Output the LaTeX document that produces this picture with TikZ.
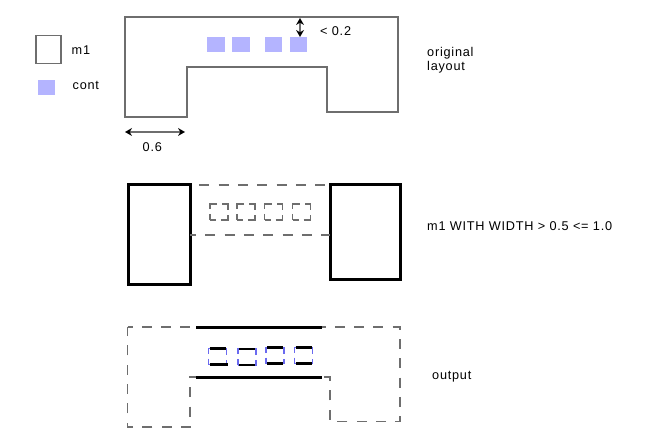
\documentclass[tikz,border=0pt]{standalone}
\usepackage{fontspec}
\setmainfont[LetterSpace=6]{Liberation Sans}
\usetikzlibrary{arrows.meta,positioning,calc}
\definecolor{edgegray}{HTML}{6E6E6E}
\definecolor{contblue}{HTML}{B4B4FF}
\definecolor{dashblue}{HTML}{6A6AF0}
\tikzset{
  outline/.style={draw=edgegray,line width=1.5pt},
  dashline/.style={draw=edgegray,line width=1.6pt,dash pattern=on 10pt off 9.3pt,dash phase=#1},
  dashline/.default={10pt},
  thickline/.style={draw=black,line width=2.8pt},
  heavybox/.style={rectangle,draw=black,line width=3pt,inner sep=0pt,outer sep=0pt},
  contbox/.style={rectangle,fill=contblue,inner sep=0pt,minimum width=17.5pt,minimum height=15pt},
  ghostbox/.style={rectangle,draw=edgegray,line width=1.5pt,dash pattern=on 12pt off 5pt,dash phase=6pt,
    inner sep=0pt,outer sep=0pt,minimum width=18pt,minimum height=16pt},
  viabox/.style={rectangle,draw=dashblue,line width=1.6pt,dash pattern=on 12pt off 5pt,dash phase=6pt,
    inner sep=0pt,outer sep=0pt,minimum width=18pt,minimum height=16pt},
  dimarrow/.style={{Stealth[length=7pt,width=8pt,fill=black,line width=0pt]}-{Stealth[length=7pt,width=8pt,fill=black,line width=0pt]},draw=edgegray,line width=1.5pt},
  label/.style={font=\fontsize{12.7}{14.5}\selectfont,text=black,inner sep=0pt,anchor=west},
}
\begin{document}
\begin{tikzpicture}[x=1pt,y=-1pt]
  \useasboundingbox (0,0) rectangle (650,443);
  % legend
  \node[outline,rectangle,inner sep=0pt,minimum width=25pt,minimum height=28pt] (legm) at (48.5,49.5) {};
  \node[label] (legmtxt) at (71.5,50.5) {m1};
  \node[contbox] (legc) at (46.5,87.5) {};
  \node[label] (legctxt) at (72.5,85.5) {cont};
  % original layout
  \draw[outline] (125,17) -- (398,17) -- (398,112) -- (327,112) -- (327,67) -- (187,67) -- (187,117) -- (125,117) -- cycle;
  \node[contbox] (c1) at (216,44.5) {};
  \node[contbox] (c2) at (241,44.5) {};
  \node[contbox] (c3) at (273.5,44.5) {};
  \node[contbox] (c4) at (298.5,44.5) {};
  \coordinate (gaptop) at (300,18);
  \coordinate (gapbot) at (300,37);
  \draw[dimarrow] (gaptop) -- (gapbot);
  \node[label] (gaptxt) at (320,31) {< 0.2};
  \coordinate (widl) at (125,132);
  \coordinate (widr) at (185,132);
  \draw[dimarrow] (widl) -- (widr);
  \node[label] (widtxt) at (142.5,147) {0.6};
  \node[label,align=left] (orig) at (427,60) {original\\layout};
  % selected width
  \node[heavybox,minimum width=62pt,minimum height=100pt] (left) at (159,235) {};
  \node[heavybox,minimum width=70pt,minimum height=95pt] (right) at (365,232.5) {};
  \draw[dashline] (left.north east) -- (right.north west);
  \draw[dashline=4pt] (left.east) -- (right.west |- left.east);
  \node[ghostbox] (g1) at (219,212) {};
  \node[ghostbox] (g2) at (246,212) {};
  \node[ghostbox] (g3) at (273.5,212) {};
  \node[ghostbox] (g4) at (301.5,212) {};
  \node[label] (rule) at (427,226) {m1 WITH WIDTH > 0.5 <= 1.0};
  % output
  \draw[dashline=5pt] (127.5,327) -- (400,327) -- (400,421.5) -- (330,421.5) -- (330,377) -- (190,377) -- (190,427) -- (127.5,427) -- cycle;
  \coordinate (topl) at (196,327.7);
  \coordinate (topr) at (322,327.7);
  \coordinate (botl) at (196,377.7);
  \coordinate (botr) at (322,377.7);
  \draw[thickline] (topl) -- (topr);
  \draw[thickline] (botl) -- (botr);
  \node[viabox] (v1) at (217.5,356.5) {};
  \node[viabox] (v2) at (247,357) {};
  \node[viabox] (v3) at (275,355.5) {};
  \node[viabox] (v4) at (303.5,355.5) {};
  \draw[thickline] ($(v1.north west)+(1,0)$) -- ($(v1.north east)+(-1,0)$);
  \draw[thickline] ($(v1.south west)+(1,0)$) -- ($(v1.south east)+(1,0)$);
  \draw[thickline] ($(v2.north west)+(1,0)$) -- ($(v2.north east)+(-1,0)$);
  \draw[thickline] ($(v2.south west)+(1,0)$) -- ($(v2.south east)+(-1,0)$);
  \draw[thickline] ($(v3.north west)+(1,0)$) -- ($(v3.north east)+(-1,0)$);
  \draw[thickline] ($(v3.south west)+(1,0)$) -- ($(v3.south east)+(-1,0)$);
  \draw[thickline] ($(v4.north west)+(1,0)$) -- ($(v4.north east)+(-1,0)$);
  \draw[thickline] ($(v4.south west)+(1,0)$) -- ($(v4.south east)+(-1,0)$);
  \node[label] (out) at (432,376.5) {output};
\end{tikzpicture}
\end{document}
